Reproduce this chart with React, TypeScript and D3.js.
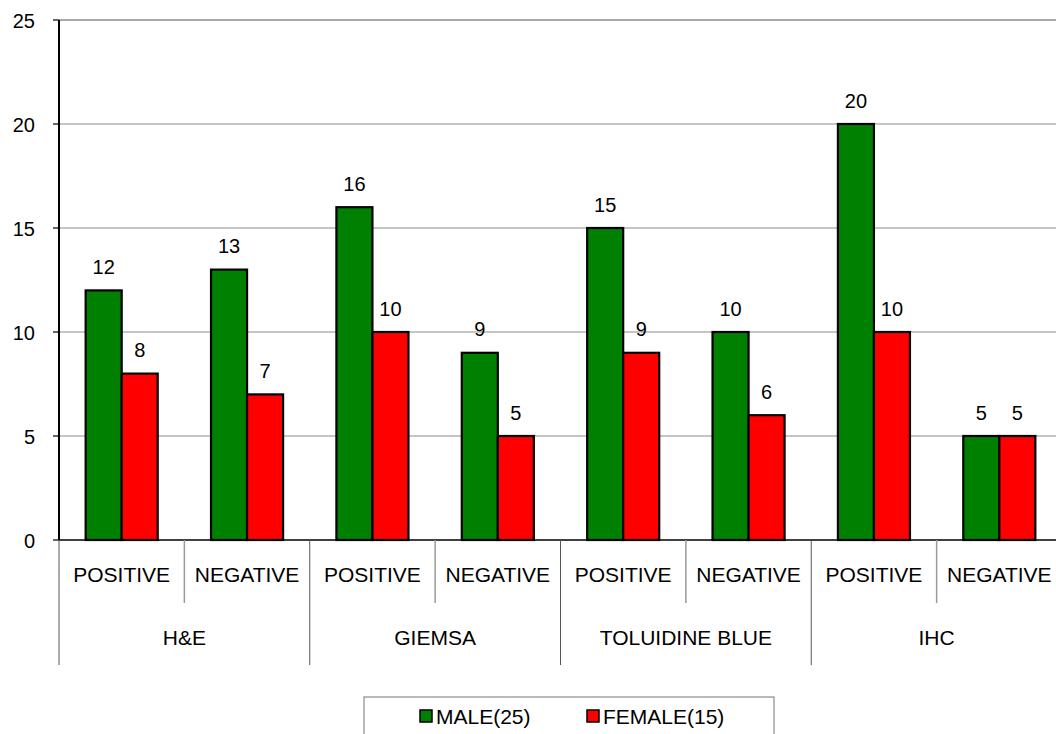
import React from "react";
import * as d3 from "d3";

// Stain methods and their result sub-categories
const methods = ["H&E", "GIEMSA", "TOLUIDINE BLUE", "IHC"];
const results = ["POSITIVE", "NEGATIVE"];

// Counts per method/result, in order: H&E+, H&E-, GIEMSA+, GIEMSA-, TB+, TB-, IHC+, IHC-
const maleCounts = [12, 13, 16, 9, 15, 10, 20, 5];
const femaleCounts = [8, 7, 10, 5, 9, 6, 10, 5];

const seriesNames = ["MALE(25)", "FEMALE(15)"];
const seriesColors = ["#008000", "#ff0000"];
const yTicks = [0, 5, 10, 15, 20, 25];

const W = 1056;
const H = 734;
const FONT = "'Liberation Sans', Arial, Helvetica, sans-serif";

export default function App() {
  const left = 59;
  const right = 1062;
  const top = 20;
  const bottom = 540;

  const y = d3.scaleLinear().domain([0, 25]).range([bottom, top]);

  const cats = methods.flatMap((m) => results.map((r) => `${m}|${r}`));
  const x = d3.scaleBand<string>().domain(cats).range([left, right]).padding(0);
  const inner = d3
    .scaleBand<number>()
    .domain([0, 1])
    .range([0, x.bandwidth()])
    .paddingInner(0)
    .paddingOuter(0.74);

  const series = [maleCounts, femaleCounts];
  const groupW = x.bandwidth() * results.length;

  return (
    <svg
      width={W}
      height={H}
      style={{ position: "absolute", left: 0, top: 0, background: "#fff" }}
      fontFamily={FONT}
    >
      {/* gridlines */}
      {yTicks.slice(1).map((t) => (
        <line key={`g${t}`} x1={left} x2={W} y1={y(t)} y2={y(t)} stroke="#8c8c8c" strokeWidth={t === 25 ? 1.6 : 1.2} />
      ))}

      {/* y tick marks and labels */}
      {yTicks.map((t) => (
        <g key={`t${t}`}>
          <line x1={left - 6} x2={left} y1={y(t)} y2={y(t)} stroke="#000" strokeWidth={1.2} />
          <text x={35} y={y(t) + 7.5} textAnchor="end" fontSize={20} fill="#000">
            {t}
          </text>
        </g>
      ))}

      {/* bars */}
      {cats.map((c, i) =>
        series.map((vals, s) => {
          const x0 = (x(c) ?? 0) + (inner(s) ?? 0);
          const bw = inner.bandwidth();
          return (
            <g key={`${c}-${s}`}>
              <rect
                x={x0}
                y={y(vals[i])}
                width={bw}
                height={y(0) - y(vals[i])}
                fill={seriesColors[s]}
                stroke="#000"
                strokeWidth={2.2}
              />
              <text x={x0 + bw / 2} y={y(vals[i]) - 16.5} textAnchor="middle" fontSize={20} fill="#000">
                {vals[i]}
              </text>
            </g>
          );
        })
      )}

      {/* axes */}
      <line x1={left} x2={left} y1={top} y2={bottom} stroke="#000" strokeWidth={2} />
      <line x1={left} x2={W} y1={bottom} y2={bottom} stroke="#000" strokeWidth={1.6} />

      {/* sub-category separators and labels */}
      {cats.map((c, i) => {
        const xs = x(c) ?? 0;
        const isGroupEdge = i % results.length === 0;
        return (
          <g key={`sep${c}`}>
            {!isGroupEdge && (
              <line x1={xs} x2={xs} y1={bottom} y2={603} stroke="#9a9a9a" strokeWidth={1.5} />
            )}
            <text x={xs + x.bandwidth() / 2} y={582} textAnchor="middle" fontSize={21} fill="#000">
              {results[i % results.length]}
            </text>
          </g>
        );
      })}

      {/* method separators and labels */}
      {methods.map((m) => {
        const xs = x(`${m}|${results[0]}`) ?? 0;
        return (
          <g key={`m${m}`}>
            <line x1={xs} x2={xs} y1={bottom} y2={665} stroke="#555" strokeWidth={1} />
            <text x={xs + groupW / 2} y={645} textAnchor="middle" fontSize={21} fill="#000">
              {m}
            </text>
          </g>
        );
      })}

      {/* legend */}
      <rect x={364} y={697} width={410} height={60} fill="#fff" stroke="#8c8c8c" strokeWidth={1.2} />
      {seriesNames.map((name, s) => {
        const lx = s === 0 ? 420 : 587;
        return (
          <g key={name}>
            <rect x={lx} y={710} width={12} height={12} fill={seriesColors[s]} stroke="#000" strokeWidth={1.5} />
            <text x={lx + 16} y={724} fontSize={21} fill="#000">
              {name}
            </text>
          </g>
        );
      })}
    </svg>
  );
}
